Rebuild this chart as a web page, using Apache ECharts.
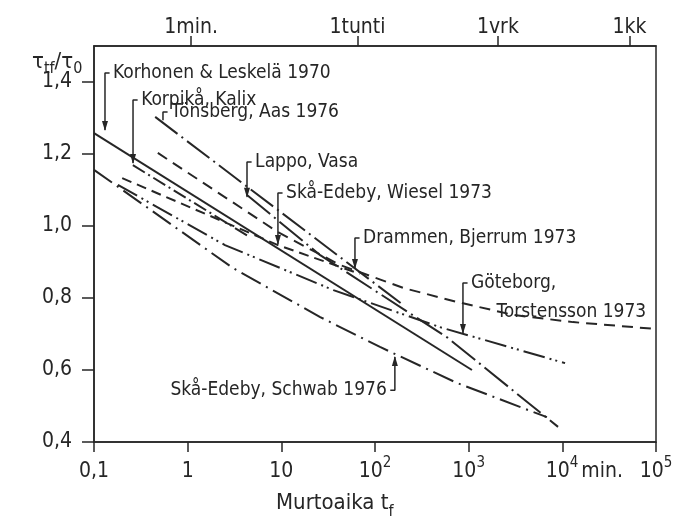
<!DOCTYPE html>
<html><head><meta charset="utf-8">
<script src="https://cdn.jsdelivr.net/npm/echarts@6/dist/echarts.min.js"></script>
<style>html,body{margin:0;padding:0;background:#fff}#c{width:680px;height:517px}</style>
</head><body><div id="c"></div>
<script>
// ---- data: x = murtoaika t_f (min), y = tau_tf / tau_0 ----
const korhonenX = [0.1, 1084];
const korhonenY = [1.258, 0.600];
const korpikaX = [0.26, 4.6];
const korpikaY = [1.169, 0.969];
const tonsbergX = [0.45, 199];
const tonsbergY = [1.303, 0.781];
const lappoX = [4.3, 26, 600, 9000];
const lappoY = [1.086, 0.919, 0.689, 0.442];
const wieselX = [0.2, 9.2, 69];
const wieselY = [1.133, 0.947, 0.867];
const drammenX = [0.48, 9.2, 42, 200, 750, 3000, 13000, 100000];
const drammenY = [1.203, 0.983, 0.892, 0.828, 0.789, 0.753, 0.733, 0.714];
const goteborgX = [0.18, 2.5, 36, 494, 10700];
const goteborgY = [1.114, 0.947, 0.822, 0.719, 0.619];
const schwabX = [0.1, 3.05, 26, 113, 750, 6850];
const schwabY = [1.156, 0.883, 0.747, 0.664, 0.564, 0.469];

// annotations (bracket x, label y, arrow tip y, in data units)
const annotText = ['Korhonen & Leskelä 1970', 'Korpikå, Kalix', 'Tönsberg, Aas 1976', 'Lappo, Vasa',
  'Skå-Edeby, Wiesel 1973', 'Drammen, Bjerrum 1973', 'Göteborg,', 'Skå-Edeby, Schwab 1976'];
const annotX = [0.131, 0.261, 0.545, 4.30, 9.2, 61.1, 869, 163];
const annotLabelY = [1.425, 1.35, 1.317, 1.178, 1.092, 0.967, 0.842, 0.544];
const annotTipY = [1.267, 1.175, 1.294, 1.081, 0.95, 0.883, 0.703, 0.636];
const extraText = ['Torstensson 1973'];
const extraX = [1820];
const extraY = [0.761];

// tick labels
const bottomTickValues = [0.1, 1, 10, 100, 1000, 10000, 100000];
const bottomTickText = ['0,1', '1', '10', '10', '10', '10', '10'];
const bottomTickSup = ['', '', '', '2', '3', '4', '5'];
const bottomTickSuffix = ['', '', '', '', '', 'min.', ''];
const topTickValues = [1.09, 65, 2050, 52000];
const topTickText = ['1min.', '1tunti', '1vrk', '1kk'];
const yTickValues = [0.4, 0.6, 0.8, 1.0, 1.2, 1.4];
const yTickText = ['0,4', '0,6', '0,8', '1,0', '1,2', '1,4'];

// ---- chart ----
const F = '"DejaVu Sans Condensed", "DejaVu Sans", sans-serif';
const C = '#262626';
const zip = (xs, ys) => xs.map((x, i) => [x, ys[i]]);
const nearest = (vals, v) => {
  let b = 0, d = Infinity;
  vals.forEach((t, i) => { const dd = Math.abs(Math.log10(t) - Math.log10(v)); if (dd < d) { d = dd; b = i; } });
  return b;
};

const curves = [
  { x: korhonenX, y: korhonenY, type: 'solid' },
  { x: korpikaX, y: korpikaY, type: [14, 4, 2, 4] },
  { x: tonsbergX, y: tonsbergY, type: [28, 5, 2, 5] },
  { x: lappoX, y: lappoY, type: [30, 5, 2, 5] },
  { x: wieselX, y: wieselY, type: [10, 6] },
  { x: drammenX, y: drammenY, type: [11, 7] },
  { x: goteborgX, y: goteborgY, type: [22, 5, 2, 4, 2, 5] },
  { x: schwabX, y: schwabY, type: [22, 6, 2, 6] }
];

const series = [];
curves.forEach(c => {
  series.push({
    type: 'line', data: zip(c.x, c.y), symbol: 'none', showSymbol: false, silent: true,
    lineStyle: { color: C, width: 2, type: c.type }, z: 3
  });
});

// brackets with arrows
const labelData = [];
annotText.forEach((t, i) => {
  const bx = annotX[i], ly = annotLabelY[i], ty = annotTipY[i];
  const left = (i === 7);
  const hx = left ? bx / 1.12 : bx * 1.12;
  const tip = { value: [bx, ty] };
  if (i === 2) { tip.symbol = 'none'; }
  else {
    tip.symbol = 'triangle';
    tip.symbolSize = [6, 10];
    tip.symbolRotate = ty < ly ? 180 : 0;
    tip.symbolOffset = [0, ty < ly ? -4 : 4];
  }
  series.push({
    type: 'line', silent: true, z: 4,
    data: [{ value: [hx, ly], symbol: 'none' }, { value: [bx, ly], symbol: 'none' }, tip],
    showSymbol: true, symbol: 'none',
    lineStyle: { color: C, width: 1.5 }, itemStyle: { color: C }
  });
  labelData.push({ value: [hx, ly], name: t, label: { position: left ? 'left' : 'right' } });
});
extraText.forEach((t, i) => labelData.push({ value: [extraX[i], extraY[i]], name: t, label: { position: 'right' } }));

series.push({
  type: 'scatter', data: labelData, symbolSize: 1, silent: true, z: 5,
  itemStyle: { color: 'rgba(0,0,0,0)' },
  label: { show: true, formatter: p => p.name, color: C, opacity: 1, fontFamily: F, fontSize: 19, distance: 3 }
});

const chart = echarts.init(document.getElementById('c'), null, { renderer: 'canvas' });
chart.setOption({
  animation: false,
  backgroundColor: '#fff',
  title: [
    {
      text: '{a|τ}{b|tf}{a|/τ}{b|0}', left: 27, top: 46,
      textStyle: { fontWeight: 'normal', rich: {
        a: { fontSize: 22, fontFamily: F, fontWeight: 'normal', color: C, lineHeight: 26, verticalAlign: 'top' },
        b: { fontSize: 16, fontFamily: F, fontWeight: 'normal', color: C, lineHeight: 26, verticalAlign: 'bottom' }
      } }
    },
    {
      text: '{a|Murtoaika t}{b|f}', left: 271, top: 487,
      textStyle: { fontWeight: 'normal', rich: {
        a: { fontSize: 22, fontFamily: F, fontWeight: 'normal', color: C, lineHeight: 28, verticalAlign: 'top' },
        b: { fontSize: 16, fontFamily: F, fontWeight: 'normal', color: C, lineHeight: 28, verticalAlign: 'bottom' }
      } }
    }
  ],
  grid: { left: 94, right: 24, top: 46, bottom: 75, show: true, borderColor: C, borderWidth: 1.5 },
  xAxis: [
    {
      type: 'log', logBase: 10, min: 0.1, max: 100000, position: 'bottom',
      axisLine: { lineStyle: { color: C, width: 1.5 } },
      axisTick: { length: 10, lineStyle: { color: C, width: 1.5 } },
      splitLine: { show: false }, minorTick: { show: false },
      axisLabel: {
        margin: 14, color: C, fontFamily: F, fontSize: 21,
        formatter: v => {
          const i = nearest(bottomTickValues, v);
          let s = '';
          if (bottomTickSuffix[i]) s += '{pad|}';
          s += '{n|' + bottomTickText[i] + '}';
          if (bottomTickSup[i]) s += '{p|' + bottomTickSup[i] + '}';
          if (bottomTickSuffix[i]) s += '{m|' + bottomTickSuffix[i] + '}';
          return s;
        },
        rich: {
          n: { fontSize: 21, fontFamily: F, color: C, lineHeight: 26, verticalAlign: 'bottom' },
          p: { fontSize: 15, fontFamily: F, color: C, lineHeight: 26, verticalAlign: 'top' },
          m: { fontSize: 21, fontFamily: F, color: C, lineHeight: 26, verticalAlign: 'bottom', padding: [0, 0, 0, 3] },
          pad: { width: 44 }
        }
      }
    },
    {
      type: 'log', logBase: 10, min: 0.1, max: 100000, position: 'top',
      axisLine: { lineStyle: { color: C, width: 1.5 } },
      axisTick: { customValues: topTickValues, length: 10, lineStyle: { color: C, width: 1.5 } },
      splitLine: { show: false }, minorTick: { show: false },
      axisLabel: {
        customValues: topTickValues, margin: 8, color: C, fontFamily: F, fontSize: 21,
        formatter: v => topTickText[nearest(topTickValues, v)]
      }
    }
  ],
  yAxis: [
    {
      type: 'value', min: 0.4, max: 1.5, interval: 0.2,
      axisLine: { show: true, lineStyle: { color: C, width: 1.5 } },
      axisTick: { show: true, customValues: yTickValues, length: 12, lineStyle: { color: C, width: 1.5 } },
      splitLine: { show: false },
      axisLabel: {
        customValues: yTickValues, margin: 22, color: C, fontFamily: F, fontSize: 21,
        formatter: v => { const i = yTickValues.findIndex(t => Math.abs(t - v) < 1e-6); return i >= 0 ? yTickText[i] : ''; }
      }
    }
  ],
  series: series
});
</script>
</body></html>
